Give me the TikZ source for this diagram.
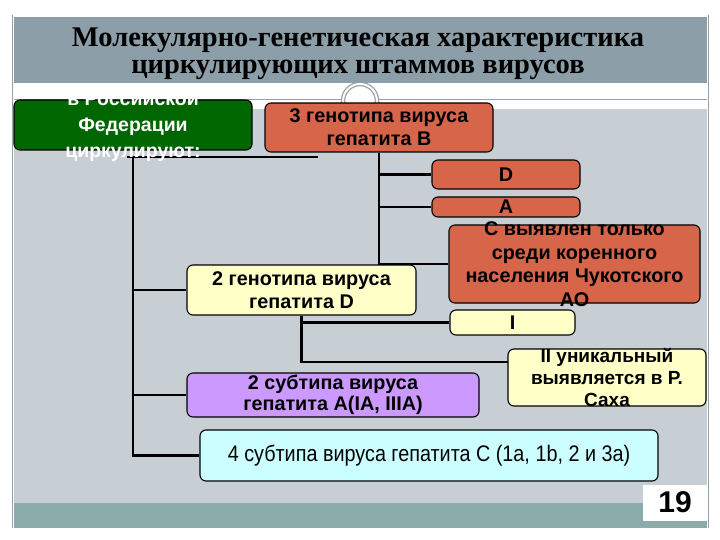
\documentclass[tikz,border=0pt]{standalone}
\usepackage{fontspec}
\setmainfont{Liberation Sans}
\newfontfamily\titlefont{Liberation Serif}
\newfontfamily\narrowfont[FakeStretch=0.88]{Liberation Sans}
\usepackage{tikz}
\usetikzlibrary{positioning}
\definecolor{titleband}{RGB}{140,159,168}
\definecolor{panel}{RGB}{199,207,213}
\definecolor{footband}{RGB}{139,172,170}
\definecolor{framegray}{RGB}{150,160,165}
\definecolor{rfgreen}{RGB}{0,102,0}
\definecolor{hbv}{RGB}{214,101,74}
\definecolor{hdv}{RGB}{255,255,200}
\definecolor{hav}{RGB}{204,153,255}
\definecolor{hcv}{RGB}{204,255,255}
\tikzset{
  box/.style={draw=black, line width=1.1pt, rounded corners=6pt, inner sep=0pt, align=center,
    font=\bfseries\fontsize{19.8}{23}\selectfont},
  boxtext/.style={inner sep=0pt, align=center, font=\bfseries\fontsize{19.8}{23.5}\selectfont},
  link/.style={line width=2.8pt, black}
}

\begin{document}
\begin{tikzpicture}[x=1pt, y=-1pt]
        \useasboundingbox (0,0) rectangle (720,540);
        \fill[white] (0,0) rectangle (720,540);
        % slide background
        \fill[titleband] (14,17) rectangle (707,83);
        \fill[panel] (14,109) rectangle (707,503);
        \fill[footband] (14,503) rectangle (707,528);
        \draw[framegray, line width=0.8pt] (12,15) -- (12,528) (708,15) -- (708,528);
        \draw[framegray, line width=1pt] (14,100) -- (342,100) (378,100) -- (707,100);
        \draw[framegray, line width=4.5pt] (360,101) circle (17);
        \draw[white, line width=2pt] (360,101) circle (17);
        \node[font=\titlefont\bfseries\fontsize{28.5}{27}\selectfont, align=center] (title) at (358,54)
            {Молекулярно-генетическая характеристика\\циркулирующих штаммов вирусов};
        \node[fill=white, inner sep=0pt, minimum width=64pt, minimum height=36pt,
            font=\bfseries\fontsize{30}{30}\selectfont] (pgnum) at (675,502.5) {19};

        % boxes
        \node[box, fill=rfgreen, minimum width=238pt, minimum height=50pt] (rf) at (133,125) {};
        \node[box, fill=hbv, minimum width=228pt, minimum height=49pt] (genB) at (379,127.5) {3 генотипа вируса\\гепатита В};
        \node[box, fill=hbv, minimum width=148pt, minimum height=29pt] (subD) at (506,174.5) {D};
        \node[box, fill=hbv, minimum width=148pt, minimum height=20pt] (subA) at (506,207) {A};
        \node[box, fill=hbv, minimum width=251pt, minimum height=78pt] (subC) at (574.5,264) {};
        \node[boxtext] (subCtext) at (subC) {С выявлен только\\среди коренного\\населения Чукотского\\АО};
        \node[box, fill=hdv, minimum width=229pt, minimum height=50pt] (genD) at (301.5,290) {2 генотипа вируса\\гепатита D};
        \node[box, fill=hdv, minimum width=125pt, minimum height=25pt] (typI) at (512.5,322.5) {I};
        \node[box, fill=hdv, minimum width=198pt, minimum height=57pt] (typII) at (607,377.5) {};
        \node[boxtext, font=\bfseries\fontsize{19}{22}\selectfont] (typIItext) at (typII) {II уникальный\\выявляется в Р.\\Саха};
        \node[box, fill=hav, minimum width=292pt, minimum height=44pt,
            font=\bfseries\fontsize{19.8}{21}\selectfont] (subHAV) at (333,395) {2 субтипа вируса\\гепатита A(IA, IIIA)};
        \node[box, fill=hcv, minimum width=458pt, minimum height=51pt,
            font=\narrowfont\fontsize{22.5}{24}\selectfont] (subHCV) at (429,455.5) {4 субтипа вируса гепатита С (1а, 1b, 2 и 3а)};

        % connectors
        \coordinate (hubL) at (127,157);
        \coordinate (hubR) at (318,157);
        \coordinate (trunk) at (133,157);
        \coordinate (typIIin) at (508,362);
        \draw[link] (hubL) -- (hubR);
        \draw[link] (trunk) |- (genD.west);
        \draw[link] (trunk) |- (subHAV.west);
        \draw[link] (trunk) |- (subHCV.west);
        \draw[link] (genB.south) |- (subD.west);
        \draw[link] (genB.south) |- (subA.west);
        \draw[link] (genB.south) |- (subC.west);
        \draw[link] (genD.south) |- (typI.west);
        \draw[link] (genD.south) |- (typIIin);

        \begin{scope}
            \clip (0,93) rectangle (720,540);
            \node[boxtext, text=white, font=\bfseries\fontsize{19.5}{26}\selectfont] (rftext) at (133,126)
                {в Российской\\Федерации\\циркулируют:};
        \end{scope}
    \end{tikzpicture}
\end{document}
